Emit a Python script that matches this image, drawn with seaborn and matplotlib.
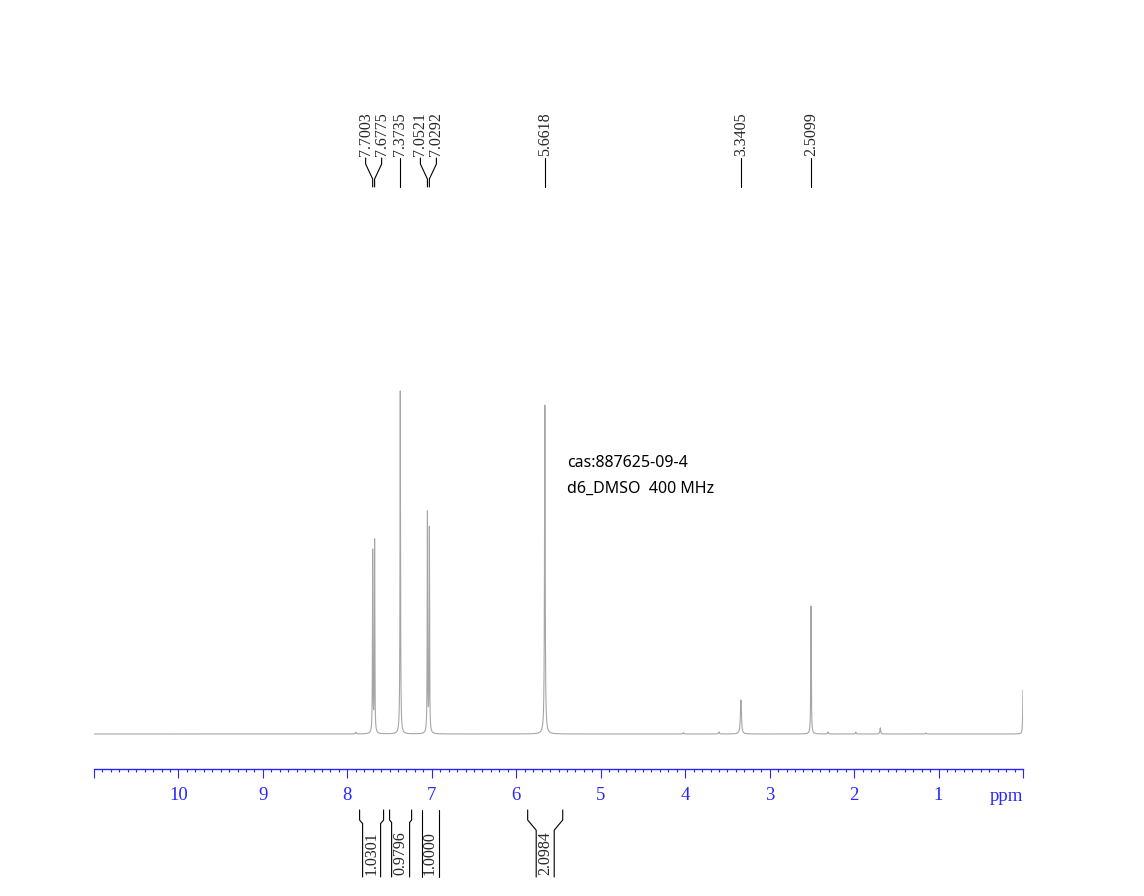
import matplotlib
matplotlib.use("Agg")
import matplotlib.pyplot as plt
from matplotlib.ticker import MultipleLocator
import seaborn as sns
import pandas as pd
import numpy as np

# labelled peaks (ppm, relative height, half width)
peak_ppm = [7.7003, 7.6775, 7.3735, 7.0521, 7.0292, 5.6618, 3.3405, 2.5099]
peak_height = [53.0, 56.0, 100.0, 64.1, 59.5, 95.9, 9.9, 37.3]
peak_hwhm = [0.003, 0.003, 0.0035, 0.003, 0.003, 0.0045, 0.007, 0.0035]

# small unlabelled signals
minor_ppm = [7.90, 4.02, 3.60, 2.31, 1.98, 1.69, 1.15, 0.0]
minor_height = [0.5, 0.4, 0.6, 0.6, 0.6, 1.8, 0.3, 12.8]
minor_hwhm = [0.006, 0.006, 0.006, 0.006, 0.004, 0.005, 0.006, 0.004]

# integrals (range start, range end, value)
integral_from = [7.855, 7.500, 7.121, 5.865]
integral_to = [7.571, 7.239, 6.919, 5.450]
integral_value = [1.0301, 0.9796, 1.0000, 2.0984]

tick_values = [11, 10, 9, 8, 7, 6, 5, 4, 3, 2, 1, 0]
tick_labels = ["", "10", "9", "8", "7", "6", "5", "4", "3", "2", "1", ""]

info_lines = ["cas:887625-09-4", "d6_DMSO  400 MHz"]

# build the spectrum trace from the peak table
ppm = np.linspace(11, 0, 44001)
intensity = np.zeros_like(ppm)
for c, h, w in zip(peak_ppm + minor_ppm, peak_height + minor_height,
                   peak_hwhm + minor_hwhm):
    intensity += h * w**2 / ((ppm - c) ** 2 + w**2)
spec_df = pd.DataFrame({"ppm": ppm, "intensity": intensity})

sns.set_style("white")
plt.rcParams["font.family"] = ["Liberation Serif", "DejaVu Serif"]

blue = "#2626ff"
W, H = 1144, 896
fig = plt.figure(figsize=(W / 100, H / 100), dpi=100)
ax_bottom, ax_top = 769, 100
ax = fig.add_axes([94 / W, (H - ax_bottom) / H, (1023 - 94) / W,
                   (ax_bottom - ax_top) / H])


def fy(py):
    # pixel row -> axes fraction
    return (ax_bottom - py) / (ax_bottom - ax_top)


px_per_ppm = 84.45
sns.lineplot(data=spec_df, x="ppm", y="intensity", ax=ax, color="#a6a6a6",
             linewidth=0.8, estimator=None, sort=False)
ax.set_xlim(11, 0)
scale = 343 / 100
ax.set_ylim(-35 / scale, 634 / scale)

for s in ["left", "right", "top"]:
    ax.spines[s].set_visible(False)
ax.spines["bottom"].set_color(blue)
ax.spines["bottom"].set_linewidth(1.0)
ax.set_yticks([])
ax.set_xticks(tick_values)
ax.set_xticklabels(tick_labels)
ax.xaxis.set_minor_locator(MultipleLocator(0.1))
ax.tick_params(axis="x", which="both", bottom=True, top=False)
ax.tick_params(axis="x", which="major", direction="out", length=6.5,
               width=0.8, color=blue, labelcolor=blue, labelsize=13.5, pad=6.5)
ax.tick_params(axis="x", which="minor", direction="out", length=2.5,
               width=0.8, color=blue)
ax.set_xlabel("")
ax.set_ylabel("")

trans = ax.get_xaxis_transform()
ax.text(0, fy(788), "ppm", transform=trans, ha="right", va="top",
        fontsize=13.5, color=blue, clip_on=False)

# peak labels, spread apart where peaks crowd together
spacing = 16 / px_per_ppm
groups = []
for p in peak_ppm:
    if groups and abs(groups[-1][-1] - p) < 0.1:
        groups[-1].append(p)
    else:
        groups.append([p])
for g in groups:
    centre = np.mean(g)
    n = len(g)
    for i, p in enumerate(g):
        lx = centre + ((n - 1) / 2 - i) * spacing
        ax.text(lx, fy(156), f"{p:.4f}", transform=trans, rotation=90,
                ha="center", va="bottom", fontsize=11.5, clip_on=False)
        ax.plot([lx, lx, p, p], [fy(158), fy(164), fy(179), fy(187)],
                transform=trans, color="black", lw=0.8, clip_on=False)

# integral brackets below the axis
inner = 9 / px_per_ppm
for a, b, v in zip(integral_from, integral_to, integral_value):
    c = (a + b) / 2
    half = min(inner, abs(a - b) / 2)
    for outer, side in [(a, 1), (b, -1)]:
        ix = c + side * half
        dy = abs(outer - ix) * px_per_ppm * 1.2
        ax.plot([outer, outer, ix, ix], [fy(810), fy(820), fy(820 + dy), fy(877)],
                transform=trans, color="black", lw=0.8, clip_on=False)
    ax.text(c, fy(875), f"{v:.4f}", transform=trans, rotation=90,
            ha="center", va="bottom", fontsize=11.5, clip_on=False)

for i, line in enumerate(info_lines):
    fig.text(567 / W, 1 - (463 + 26 * i) / H, line, ha="left", va="center",
             fontsize=11.5, family=["Noto Sans", "DejaVu Sans"], color="black")

fig.savefig("out.png", dpi=100)
